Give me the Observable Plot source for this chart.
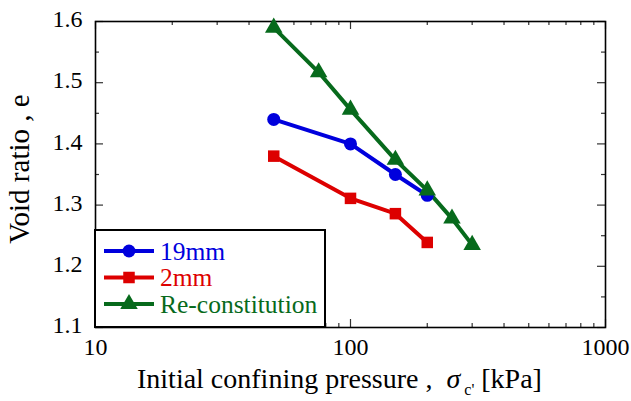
<!DOCTYPE html>
<html>
<head>
<meta charset="utf-8">
<script src="https://cdn.jsdelivr.net/npm/d3@7"></script>
<script src="https://cdn.jsdelivr.net/npm/@observablehq/plot@0.6"></script>
<style>
  html, body { margin: 0; padding: 0; background: #fff; }
  #chart { width: 631px; height: 401px; }
  #chart svg text { font-family: "Liberation Serif", "Times New Roman", serif; }
</style>
</head>
<body>
<div id="chart"></div>
<script>
// ---- data ----
const seriesNames = ["19mm", "2mm", "Re-constitution"];
const seriesColors = ["#0000dd", "#dd0000", "#076a1c"];
const seriesSymbols = ["circle", "square", "triangle"];

const p19mm = [50, 100, 150, 200];
const e19mm = [1.44, 1.40, 1.35, 1.316];

const p2mm = [50, 100, 150, 200];
const e2mm = [1.38, 1.311, 1.286, 1.239];

const pRecon = [50, 75, 100, 150, 200, 250, 300];
const eRecon = [1.59, 1.517, 1.456, 1.374, 1.324, 1.278, 1.235];

const xTickLabels = [10, 100, 1000];
const xMinorTicks = [20, 30, 40, 50, 60, 70, 80, 90, 200, 300, 400, 500, 600, 700, 800, 900];
const yTickLabels = [1.1, 1.2, 1.3, 1.4, 1.5, 1.6];
const yMinorTicks = [1.15, 1.25, 1.35, 1.45, 1.55];

// ---- build table ----
const rows = [];
[[p19mm, e19mm], [p2mm, e2mm], [pRecon, eRecon]].forEach(([ps, es], i) => {
  ps.forEach((p, j) => rows.push({series: seriesNames[i], p, e: es[j]}));
});

const W = 631, H = 401;
const mL = 95, mR = 26, mT = 21, mB = 74;
const fw = W - mL - mR, fh = H - mT - mB;
const majorLen = 8, minorLen = 4;
const font = '"Liberation Serif", "Times New Roman", serif';

const plot = Plot.plot({
  width: W,
  height: H,
  marginLeft: mL,
  marginRight: mR,
  marginTop: mT,
  marginBottom: mB,
  style: {fontFamily: font, fontSize: "24px", color: "#000", background: "#fff"},
  x: {type: "log", domain: [10, 1000]},
  y: {domain: [1.1, 1.6]},
  color: {domain: seriesNames, range: seriesColors},
  symbol: {domain: seriesNames, range: seriesSymbols},
  marks: [
    // inward ticks (all four sides)
    Plot.tickX(xTickLabels, {x: d => d, insetTop: fh - majorLen, stroke: "#333", strokeWidth: 1.2}),
    Plot.tickX(xTickLabels, {x: d => d, insetBottom: fh - majorLen, stroke: "#333", strokeWidth: 1.2}),
    Plot.tickX(xMinorTicks, {x: d => d, insetTop: fh - minorLen, stroke: "#333", strokeWidth: 1.2}),
    Plot.tickX(xMinorTicks, {x: d => d, insetBottom: fh - minorLen, stroke: "#333", strokeWidth: 1.2}),
    Plot.tickY(yTickLabels, {y: d => d, insetRight: fw - majorLen, stroke: "#333", strokeWidth: 1.2}),
    Plot.tickY(yTickLabels, {y: d => d, insetLeft: fw - majorLen, stroke: "#333", strokeWidth: 1.2}),
    Plot.tickY(yMinorTicks, {y: d => d, insetRight: fw - minorLen, stroke: "#333", strokeWidth: 1.2}),
    Plot.tickY(yMinorTicks, {y: d => d, insetLeft: fw - minorLen, stroke: "#333", strokeWidth: 1.2}),
    Plot.axisX(xTickLabels, {tickSize: 0, tickPadding: 10, label: null, tickFormat: d => String(d), fontSize: 24}),
    Plot.axisY(yTickLabels, {tickSize: 0, tickPadding: 13, label: null, tickFormat: d3.format(".1f"), fontSize: 24, dy: -2}),
    Plot.frame({stroke: "#000", strokeWidth: 1.6}),
    Plot.line(rows, {x: "p", y: "e", z: "series", stroke: "series", strokeWidth: 4}),
    Plot.dot(rows, {x: "p", y: "e", fill: "series", symbol: "series", r: 6.5})
  ]
});

document.getElementById("chart").appendChild(plot);

// ---- legend inside the frame & axis titles ----
const svg = d3.select(plot);
const lg = svg.append("g");
const boxX0 = mL, boxX1 = 325, boxY0 = 230, boxY1 = H - mB;
lg.append("rect")
  .attr("x", boxX0).attr("y", boxY0)
  .attr("width", boxX1 - boxX0).attr("height", boxY1 - boxY0)
  .attr("fill", "#fff").attr("stroke", "#000").attr("stroke-width", 2);
const rowY = [251, 277.5, 304];
seriesNames.forEach((name, i) => {
  const g = lg.append("g");
  g.append("line")
    .attr("x1", 104).attr("x2", 154).attr("y1", rowY[i]).attr("y2", rowY[i])
    .attr("stroke", seriesColors[i]).attr("stroke-width", 4);
  const sym = {circle: d3.symbolCircle, square: d3.symbolSquare, triangle: d3.symbolTriangle}[seriesSymbols[i]];
  g.append("path")
    .attr("d", d3.symbol(sym, Math.PI * 6.5 * 6.5)())
    .attr("transform", `translate(129,${rowY[i]})`)
    .attr("fill", seriesColors[i]);
  g.append("text")
    .attr("x", 160).attr("y", rowY[i]).attr("dy", "0.34em")
    .attr("text-anchor", "start")
    .attr("fill", seriesColors[i])
    .attr("font-family", font).attr("font-size", 25.5)
    .text(name);
});

// x axis title with subscript
const xt = svg.append("text")
  .attr("x", 137).attr("y", 388)
  .attr("text-anchor", "start")
  .attr("font-family", font).attr("font-size", 28).attr("fill", "#000");
xt.append("tspan").text("Initial confining pressure ,  ");
xt.append("tspan").attr("font-style", "italic").text("σ");
xt.append("tspan").attr("font-size", 16).attr("dy", 7).attr("dx", 4).text("c'");
xt.append("tspan").attr("dy", -7).text(" [kPa]");

// y axis title
svg.append("text")
  .attr("transform", `translate(29,169) rotate(-90)`)
  .attr("text-anchor", "middle")
  .attr("font-family", font).attr("font-size", 29).attr("fill", "#000")
  .text("Void ratio , e");
</script>
</body>
</html>
